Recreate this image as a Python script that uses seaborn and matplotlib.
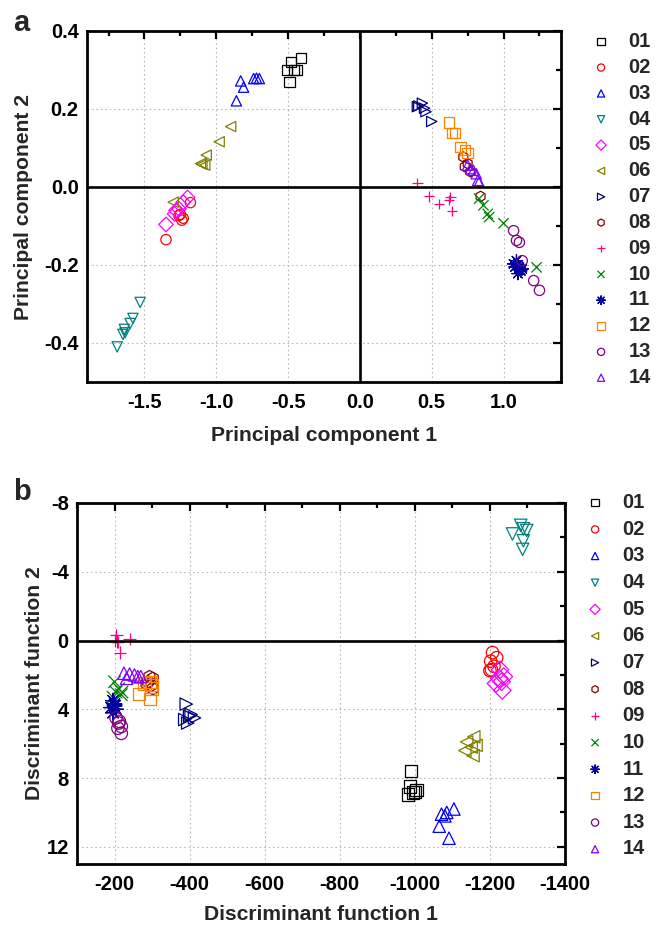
import numpy as np
import pandas as pd
import matplotlib
matplotlib.use('Agg')
import matplotlib.pyplot as plt
from matplotlib.markers import MarkerStyle
from matplotlib.ticker import MultipleLocator, FormatStrFormatter
import seaborn as sns

# ---------------------------------------------------------------------------
# data
# ---------------------------------------------------------------------------
groups = ['01', '02', '03', '04', '05', '06', '07',
          '08', '09', '10', '11', '12', '13', '14']

# panel a: principal components
pc1 = [
    [-0.41, -0.48, -0.51, -0.46, -0.44, -0.49],
    [-1.18, -1.25, -1.24, -1.23, -1.26, -1.35],
    [-0.83, -0.81, -0.86, -0.74, -0.72, -0.70],
    [-1.53, -1.58, -1.60, -1.64, -1.65, -1.69, -1.635],
    [-1.20, -1.23, -1.28, -1.26, -1.35, -1.29],
    [-0.90, -0.98, -1.07, -1.10, -1.11, -1.08, -1.30],
    [0.41, 0.435, 0.45, 0.46, 0.50, 0.40],
    [0.72, 0.73, 0.75, 0.77, 0.84],
    [0.40, 0.48, 0.55, 0.62, 0.63, 0.64],
    [0.83, 0.86, 0.89, 0.90, 1.00, 1.23],
    [1.07, 1.09, 1.10, 1.11, 1.12, 1.13, 1.08, 1.10],
    [0.62, 0.64, 0.66, 0.70, 0.73, 0.75],
    [1.07, 1.09, 1.11, 1.13, 1.21, 1.25],
    [0.75, 0.77, 0.79, 0.81, 0.82, 0.83],
]
pc2 = [
    [0.33, 0.32, 0.30, 0.30, 0.30, 0.27],
    [-0.04, -0.07, -0.085, -0.08, -0.073, -0.135],
    [0.272, 0.256, 0.221, 0.278, 0.279, 0.278],
    [-0.296, -0.337, -0.35, -0.365, -0.378, -0.41, -0.374],
    [-0.027, -0.039, -0.06, -0.056, -0.096, -0.069],
    [0.155, 0.116, 0.082, 0.058, 0.06, 0.056, -0.039],
    [0.208, 0.215, 0.202, 0.193, 0.168, 0.206],
    [0.077, 0.052, 0.06, 0.039, -0.024],
    [0.01, -0.024, -0.043, -0.033, -0.026, -0.062],
    [-0.03, -0.047, -0.069, -0.077, -0.093, -0.206],
    [-0.197, -0.189, -0.20, -0.206, -0.215, -0.21, -0.205, -0.222],
    [0.165, 0.139, 0.139, 0.103, 0.095, 0.088],
    [-0.112, -0.137, -0.142, -0.189, -0.24, -0.265],
    [0.056, 0.047, 0.043, 0.034, 0.017, 0.013],
]

# panel b: discriminant functions
df1 = [
    [-989, -987, -982, -1000, -1004, -995],
    [-1207, -1218, -1202, -1204, -1200, -1211],
    [-1104, -1085, -1071, -1065, -1091, -1080],
    [-1282, -1289, -1298, -1260, -1289, -1287],
    [-1227, -1237, -1231, -1216, -1233, -1225],
    [-1157, -1138, -1163, -1133, -1155, -1150],
    [-391, -404, -387, -413, -395, -400],
    [-293, -302, -289, -298, -302, -285],
    [-205, -206, -240, -215, -200, -208],
    [-200, -211, -220, -204, -218, -196],
    [-196, -200, -191, -204, -196, -200],
    [-265, -295, -298, -280, -293, -300],
    [-204, -211, -218, -218, -209, -213],
    [-225, -240, -253, -262, -232, -270],
]
df2 = [
    [7.6, 8.5, 8.95, 8.8, 8.7, 8.85],
    [0.7, 1.0, 1.2, 1.7, 1.75, 1.5],
    [9.8, 10.0, 10.1, 10.8, 11.5, 10.2],
    [-6.7, -6.5, -6.4, -6.2, -5.8, -5.3],
    [1.7, 2.1, 2.4, 2.5, 2.9, 2.2],
    [5.6, 5.9, 6.1, 6.4, 6.7, 6.2],
    [3.7, 4.3, 4.6, 4.5, 4.8, 4.4],
    [2.1, 2.2, 2.4, 2.6, 2.8, 2.5],
    [-0.33, 0.06, -0.1, 0.7, 0.0, 0.1],
    [2.4, 2.8, 3.0, 3.0, 3.15, 3.3],
    [3.5, 3.7, 3.9, 4.0, 4.2, 3.8],
    [3.1, 3.4, 2.8, 2.5, 2.4, 2.6],
    [4.5, 4.8, 5.0, 5.4, 5.1, 4.7],
    [1.9, 1.95, 2.0, 2.1, 2.2, 2.1],
]

colors = ['#000000', '#FF0000', '#0000FF', '#008080', '#FF00FF', '#808000', '#000080',
          '#800000', '#FF0080', '#008000', '#0000A0', '#FF8000', '#800080', '#8000FF']
markers = ['s', 'o', '^', 'v', 'D', '<', '>', 'h', '+', 'x', (8, 2, 0), 's', 'o', '^']


def to_long(xs, ys):
    rows = []
    for g, xv, yv in zip(groups, xs, ys):
        for a, b in zip(xv, yv):
            rows.append((g, a, b))
    return pd.DataFrame(rows, columns=['group', 'x', 'y'])


data_a = to_long(pc1, pc2)
data_b = to_long(df1, df2)

# ---------------------------------------------------------------------------
# style
# ---------------------------------------------------------------------------
sns.set_style('white')
plt.rcParams['font.family'] = ['Liberation Sans', 'DejaVu Sans']
plt.rcParams['font.weight'] = 'bold'
plt.rcParams['axes.unicode_minus'] = False

fig = plt.figure(figsize=(6.67, 9.25), dpi=100)
W, H = 667.0, 925.0


def px_axes(left, top, right, bottom):
    return fig.add_axes([left / W, 1 - bottom / H, (right - left) / W, (bottom - top) / H])


def scatter_groups(ax, data, size):
    for g, c, m in zip(groups, colors, markers):
        sub = data[data['group'] == g]
        s = size * 1.4 if isinstance(m, tuple) else size
        sns.scatterplot(data=sub, x='x', y='y', ax=ax, color=c,
                        marker=MarkerStyle(m, fillstyle='none'),
                        s=s, linewidth=0.9, label=g, legend=False)


def style_axes(ax):
    for sp in ax.spines.values():
        sp.set_linewidth(2.0)
        sp.set_color('black')
    ax.tick_params(which='both', direction='in', top=True, right=True,
                   width=1.6, colors='black', labelsize=14.5)
    ax.tick_params(axis='y', pad=6)
    ax.tick_params(axis='x', pad=8)
    ax.tick_params(which='major', length=6)
    ax.tick_params(which='minor', length=3.5)
    for lab in ax.get_xticklabels() + ax.get_yticklabels():
        lab.set_fontweight('bold')
    ax.grid(True, which='major', ls=(0, (1.5, 2.5)), color='#b8b8b8', lw=0.8)
    ax.axhline(0, color='black', lw=1.9, zorder=1)
    ax.axvline(0, color='black', lw=1.9, zorder=1)


def add_legend(ax, x_px, top_px, mscale, spacing):
    ax.legend(loc='upper left', bbox_to_anchor=(x_px / W, 1 - top_px / H),
              bbox_transform=fig.transFigure, frameon=False,
              prop={'weight': 'bold', 'size': 14.5}, handlelength=1.0,
              handletextpad=0.85, labelspacing=spacing, markerscale=mscale,
              borderpad=0, borderaxespad=0)


# ---------------------------------------------------------------------------
# panel a
# ---------------------------------------------------------------------------
ax1 = px_axes(87, 31, 561, 382)
scatter_groups(ax1, data_a, 55)
ax1.set_xlim(-1.9, 1.4)
ax1.set_ylim(-0.5, 0.4)
ax1.xaxis.set_major_locator(MultipleLocator(0.5))
ax1.xaxis.set_minor_locator(MultipleLocator(0.25))
ax1.yaxis.set_major_locator(MultipleLocator(0.2))
ax1.yaxis.set_minor_locator(MultipleLocator(0.1))
ax1.xaxis.set_major_formatter(FormatStrFormatter('%.1f'))
ax1.yaxis.set_major_formatter(FormatStrFormatter('%.1f'))
style_axes(ax1)
ax1.set_xlabel('Principal component 1', fontsize=15.2, fontweight='bold', labelpad=10)
ax1.set_ylabel('Principal component 2', fontsize=15.2, fontweight='bold', labelpad=8)
add_legend(ax1, 591, 32, 0.7, 0.34)
fig.text(13 / W, 1 - 31 / H, 'a', fontsize=21, fontweight='bold', va='baseline')

# ---------------------------------------------------------------------------
# panel b
# ---------------------------------------------------------------------------
ax2 = px_axes(77, 503, 565, 864)
scatter_groups(ax2, data_b, 80)
ax2.set_xlim(-100, -1400)
ax2.set_ylim(13, -8)
ax2.xaxis.set_major_locator(MultipleLocator(200))
ax2.xaxis.set_minor_locator(MultipleLocator(100))
ax2.yaxis.set_major_locator(MultipleLocator(4))
ax2.yaxis.set_minor_locator(MultipleLocator(2))
ax2.xaxis.set_major_formatter(FormatStrFormatter('%d'))
ax2.yaxis.set_major_formatter(FormatStrFormatter('%d'))
style_axes(ax2)
ax2.set_xlabel('Discriminant function 1', fontsize=15.2, fontweight='bold', labelpad=8)
ax2.set_ylabel('Discriminant function 2', fontsize=15.2, fontweight='bold', labelpad=2)
add_legend(ax2, 585, 493, 0.58, 0.38)
fig.text(13 / W, 1 - 500 / H, 'b', fontsize=21, fontweight='bold', va='baseline')

fig.savefig('out.png', dpi=100)
